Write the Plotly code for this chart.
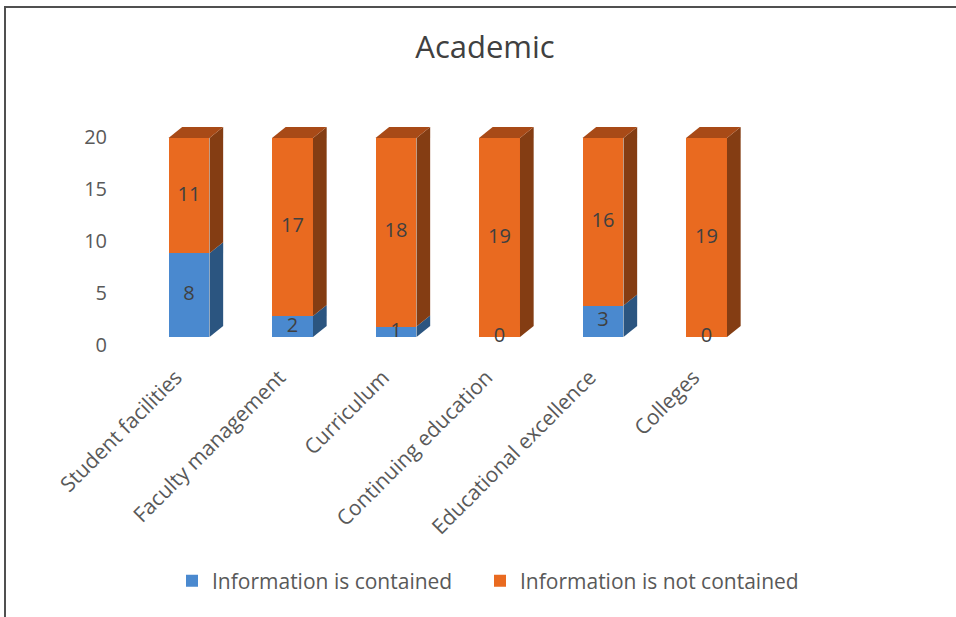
import plotly.graph_objects as go

categories = ["Student facilities", "Faculty management", "Curriculum",
              "Continuing education", "Educational excellence", "Colleges"]
contained = [8, 2, 1, 0, 3, 0]
not_contained = [11, 17, 18, 19, 16, 19]
series_names = ["Information is contained", "Information is not contained"]
y_ticks = [0, 5, 10, 15, 20]
title_text = "Academic"

W, H = 956, 617
ML, MR, MT, MB = 110, 176, 100, 257
PW, PH = W - ML - MR, H - MT - MB

BLUE_FRONT, BLUE_SIDE = "#4A89CF", "#2B5580"
ORANGE_FRONT, ORANGE_SIDE, ORANGE_TOP = "#E96A20", "#843D13", "#A84A17"
TEXT = "#404040"
AXIS_TEXT = "#595959"
FONT = "Open Sans"

bw = 0.396      # front-face width in category units
dx = 0.132      # depth offset (category units)
dy = 1.05       # depth offset (value units)

xs = list(range(len(categories)))

fig = go.Figure()

fig.add_trace(go.Bar(x=xs, y=contained, width=bw, name=series_names[0],
                     marker=dict(color=BLUE_FRONT, line=dict(width=0)),
                     hoverinfo="skip", legend="legend"))
fig.add_trace(go.Bar(x=xs, y=not_contained, width=bw, name=series_names[1],
                     marker=dict(color=ORANGE_FRONT, line=dict(width=0)),
                     hoverinfo="skip", legend="legend2"))

# 3D side / top faces derived from the data
def poly_trace(px, py, color):
    return go.Scatter(x=px, y=py, mode="lines", fill="toself", fillcolor=color,
                      line=dict(width=0, color=color), showlegend=False,
                      hoverinfo="skip")

for i, (b, o) in enumerate(zip(contained, not_contained)):
    xr = i + bw / 2
    xl = i - bw / 2
    total = b + o
    if b > 0:
        fig.add_trace(poly_trace([xr, xr + dx, xr + dx, xr, xr],
                                 [0, dy, b + dy, b, 0], BLUE_SIDE))
    if o > 0:
        fig.add_trace(poly_trace([xr, xr + dx, xr + dx, xr, xr],
                                 [b, b + dy, total + dy, total, b], ORANGE_SIDE))
    fig.add_trace(poly_trace([xl, xl + dx, xr + dx, xr, xl],
                             [total, total + dy, total + dy, total, total], ORANGE_TOP))

# data labels
lx, ly, lt = [], [], []
for i, (b, o) in enumerate(zip(contained, not_contained)):
    lx += [i, i]
    ly += [b / 2, b + o / 2]
    lt += [str(b), str(o)]
fig.add_trace(go.Scatter(x=lx, y=ly, text=lt, mode="text",
                         textfont=dict(family=FONT, size=20, color=TEXT),
                         textposition="middle center", showlegend=False,
                         hoverinfo="skip"))

# invisible trace to carry the tick-label axis
fig.add_trace(go.Scatter(x=[0], y=[0], yaxis="y2", mode="markers",
                         marker=dict(opacity=0), showlegend=False, hoverinfo="skip"))

# x scale: category i centered at pixel 189 + 103.5*i
x0 = (ML - 189) / 103.5
x1 = (ML + PW - 189) / 103.5
# bars: value 0 at pixel 337, 10.47 px per unit
yb0 = -(MT + PH - 337) / 10.47
yb1 = (337 - MT) / 10.47
# tick labels: value 0 at pixel 345, 10.4 px per unit
yt0 = -(MT + PH - 345) / 10.4
yt1 = (345 - MT) / 10.4

legend_common = dict(orientation="h", xref="container", yref="container",
                     xanchor="left", y=1 - 581 / H, yanchor="middle",
                     bgcolor="rgba(0,0,0,0)",
                     font=dict(family=FONT, size=21, color=AXIS_TEXT))

fig.update_layout(
    width=W, height=H,
    margin=dict(l=ML, r=MR, t=MT, b=MB),
    paper_bgcolor="white", plot_bgcolor="white",
    barmode="stack",
    title=dict(text=title_text, x=485 / W, xref="container", xanchor="center",
               y=1 - 47 / H, yref="container", yanchor="middle",
               font=dict(family=FONT, size=31, color=TEXT)),
    xaxis=dict(range=[x0, x1], tickmode="array", tickvals=xs, ticktext=categories,
               tickangle=-45, showgrid=False, zeroline=False, showline=False,
               ticks="", ticklabelshift=-13, ticklabelstandoff=0,
               tickfont=dict(family=FONT, size=21, color=AXIS_TEXT)),
    yaxis=dict(range=[yb0, yb1], showgrid=False, zeroline=False, showline=False,
               showticklabels=False, ticks=""),
    yaxis2=dict(range=[yt0, yt1], overlaying="y", side="left", tickmode="array",
                tickvals=y_ticks, showgrid=False, zeroline=False, showline=False,
                ticks="", ticklabelstandoff=2,
                tickfont=dict(family=FONT, size=20, color=AXIS_TEXT)),
    legend=dict(x=172 / W, **legend_common),
    legend2=dict(x=480 / W, **legend_common),
    showlegend=True,
)

# outer chart border (top and left visible)
def px_to_paper_x(p):
    return (p - ML) / PW

def px_to_paper_y(p):
    return (MT + PH - p) / PH

fig.add_shape(type="rect", xref="paper", yref="paper",
              x0=px_to_paper_x(5), x1=px_to_paper_x(W + 10),
              y0=px_to_paper_y(H + 10), y1=px_to_paper_y(7),
              line=dict(color="#505050", width=2), fillcolor="rgba(0,0,0,0)",
              layer="above")

fig.write_html("out.html",
               config={"displayModeBar": False},
               post_script="document.body.style.margin='0';"
                           "document.body.style.overflow='hidden';")
